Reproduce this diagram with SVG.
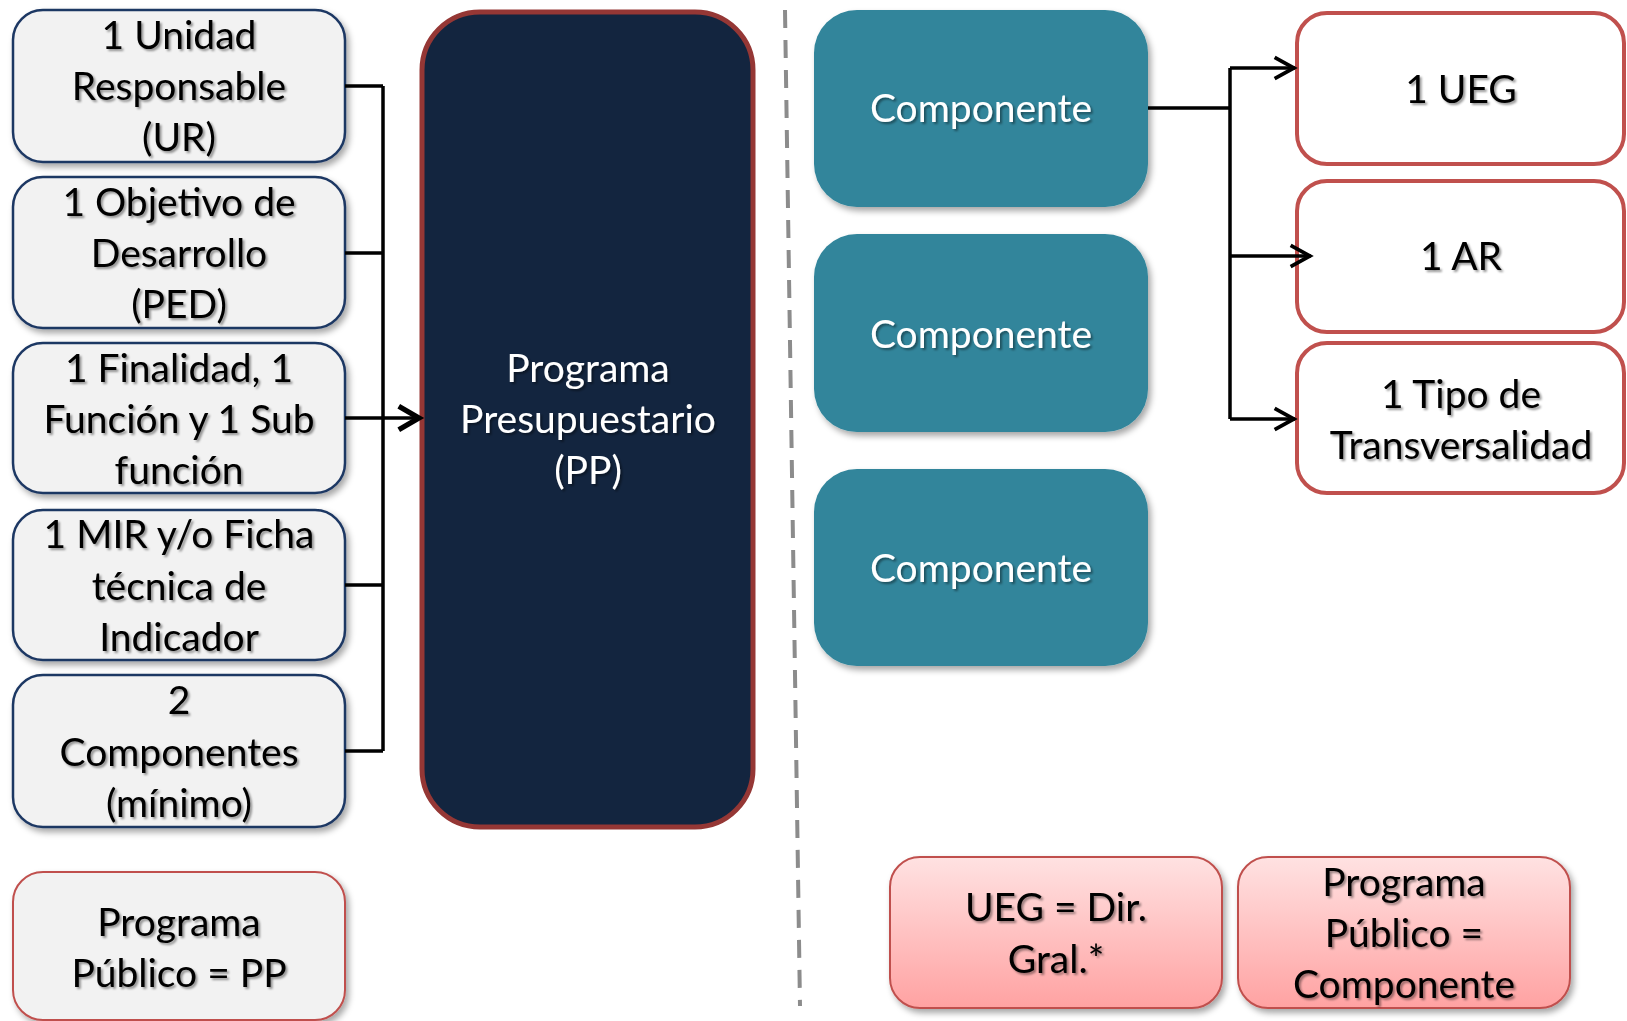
<svg xmlns="http://www.w3.org/2000/svg" width="1627" height="1021" viewBox="0 0 1627 1021">
  <defs>
    <filter id="boxShadow" x="-10%" y="-10%" width="125%" height="130%">
      <feDropShadow dx="3" dy="4" stdDeviation="3" flood-color="#000" flood-opacity="0.35"/>
    </filter>
    <filter id="txtShadow" x="-5%" y="-20%" width="115%" height="150%">
      <feDropShadow dx="2" dy="2" stdDeviation="1.2" flood-color="#000" flood-opacity="0.4"/>
    </filter>
    <linearGradient id="pinkGrad" x1="0" y1="0" x2="0" y2="1">
      <stop offset="0" stop-color="#FFE2E2"/>
      <stop offset="1" stop-color="#FFA2A2"/>
    </linearGradient>
    <marker id="arrowBig" markerUnits="userSpaceOnUse" markerWidth="34" markerHeight="34" viewBox="-26 -16 30 32" refX="0" refY="0" orient="auto">
      <path d="M-20,-11 L-1,0 L-20,11" fill="none" stroke="#000" stroke-width="5" stroke-linejoin="miter"/>
    </marker>
    <marker id="arrow" markerUnits="userSpaceOnUse" markerWidth="30" markerHeight="30" viewBox="-24 -14 28 28" refX="0" refY="0" orient="auto">
      <path d="M-19,-10 L-1,0 L-19,10" fill="none" stroke="#000" stroke-width="3.5"/>
    </marker>
  </defs>
  <style>
    text { font-family: Lato, "Liberation Sans", sans-serif; font-size: 39px; text-anchor: middle; }
    .dark { fill: #000; filter: url(#txtShadow); }
    .light { fill: #fff; filter: url(#txtShadow); }
    .grey { fill: #F2F2F2; stroke: #1F3864; stroke-width: 2.5; filter: url(#boxShadow); }
    .greyRed { fill: #F2F2F2; stroke: #C0504D; stroke-width: 2; filter: url(#boxShadow); }
    .teal { fill: #31859B; filter: url(#boxShadow); }
    .redBox { fill: #fff; stroke: #C0504D; stroke-width: 4; }
    .pink { fill: url(#pinkGrad); stroke: #C0504D; stroke-width: 2; filter: url(#boxShadow); }
    .conn { fill: none; stroke: #000; stroke-width: 3.5; }
  </style>
  <rect width="1627" height="1021" fill="#fff"/>

  <g id="divider">
    <line x1="785" y1="10" x2="800" y2="1006" stroke="#8C8C8C" stroke-width="4" stroke-dasharray="18 12"/>
  </g>

  <g id="ur">
    <rect class="grey" x="13" y="10" width="332" height="152" rx="30"/>
    <text class="dark" x="179" y="49">1 Unidad</text>
    <text class="dark" x="179" y="100">Responsable</text>
    <text class="dark" x="179" y="151">(UR)</text>
  </g>
  <g id="ped">
    <rect class="grey" x="13" y="177" width="332" height="151" rx="30"/>
    <text class="dark" x="179" y="216">1 Objetivo de</text>
    <text class="dark" x="179" y="267">Desarrollo</text>
    <text class="dark" x="179" y="318">(PED)</text>
  </g>
  <g id="finalidad">
    <rect class="grey" x="13" y="343" width="332" height="150" rx="30"/>
    <text class="dark" x="179" y="382">1 Finalidad, 1</text>
    <text class="dark" x="179" y="433">Función y 1 Sub</text>
    <text class="dark" x="179" y="484">función</text>
  </g>
  <g id="mir">
    <rect class="grey" x="13" y="510" width="332" height="150" rx="30"/>
    <text class="dark" x="179" y="548">1 MIR y/o Ficha</text>
    <text class="dark" x="179" y="600">técnica de</text>
    <text class="dark" x="179" y="651">Indicador</text>
  </g>
  <g id="componentes-min">
    <rect class="grey" x="13" y="675" width="332" height="152" rx="30"/>
    <text class="dark" x="179" y="714">2</text>
    <text class="dark" x="179" y="766">Componentes</text>
    <text class="dark" x="179" y="817">(mínimo)</text>
  </g>
  <g id="pp-note">
    <rect class="greyRed" x="13" y="872" width="332" height="148" rx="30"/>
    <text class="dark" x="179" y="936">Programa</text>
    <text class="dark" x="179" y="987">Público = PP</text>
  </g>

  <g id="pp">
    <rect x="422" y="12" width="331" height="815" rx="58" fill="#13253F" stroke="#953735" stroke-width="5"/>
    <text class="light" x="588" y="382">Programa</text>
    <text class="light" x="588" y="433">Presupuestario</text>
    <text class="light" x="588" y="484">(PP)</text>
  </g>

  <g id="componente1">
    <rect class="teal" x="814" y="10" width="334" height="197" rx="43"/>
    <text class="light" x="981" y="122">Componente</text>
  </g>
  <g id="componente2">
    <rect class="teal" x="814" y="234" width="334" height="198" rx="43"/>
    <text class="light" x="981" y="348">Componente</text>
  </g>
  <g id="componente3">
    <rect class="teal" x="814" y="469" width="334" height="197" rx="43"/>
    <text class="light" x="981" y="582">Componente</text>
  </g>

  <g id="ueg">
    <rect class="redBox" x="1297" y="13" width="327" height="151" rx="30"/>
    <text class="dark" x="1461" y="103">1 UEG</text>
  </g>
  <g id="ar">
    <rect class="redBox" x="1297" y="181" width="327" height="151" rx="30"/>
    <text class="dark" x="1461" y="270">1 AR</text>
  </g>
  <g id="transversalidad">
    <rect class="redBox" x="1297" y="343" width="327" height="150" rx="30"/>
    <text class="dark" x="1461" y="408">1 Tipo de</text>
    <text class="dark" x="1461" y="459">Transversalidad</text>
  </g>

  <g id="ueg-note">
    <rect class="pink" x="890" y="857" width="332" height="151" rx="30"/>
    <text class="dark" x="1056" y="921">UEG = Dir.</text>
    <text class="dark" x="1056" y="973">Gral.*</text>
  </g>
  <g id="componente-note">
    <rect class="pink" x="1238" y="857" width="332" height="151" rx="30"/>
    <text class="dark" x="1404" y="896">Programa</text>
    <text class="dark" x="1404" y="947">Público =</text>
    <text class="dark" x="1404" y="998">Componente</text>
  </g>

  <g id="connectors">
    <path class="conn" d="M345,86 H383 M345,253 H383 M345,585 H383 M345,751 H383 M383,86 V751"/>
    <path class="conn" d="M345,418 H420" stroke-width="4" marker-end="url(#arrowBig)"/>
    <path class="conn" d="M1148,108 H1230 M1230,68 V419"/>
    <path class="conn" d="M1230,68 H1295" marker-end="url(#arrow)"/>
    <path class="conn" d="M1230,256 H1311" marker-end="url(#arrow)"/>
    <path class="conn" d="M1230,419 H1295" marker-end="url(#arrow)"/>
  </g>
</svg>
